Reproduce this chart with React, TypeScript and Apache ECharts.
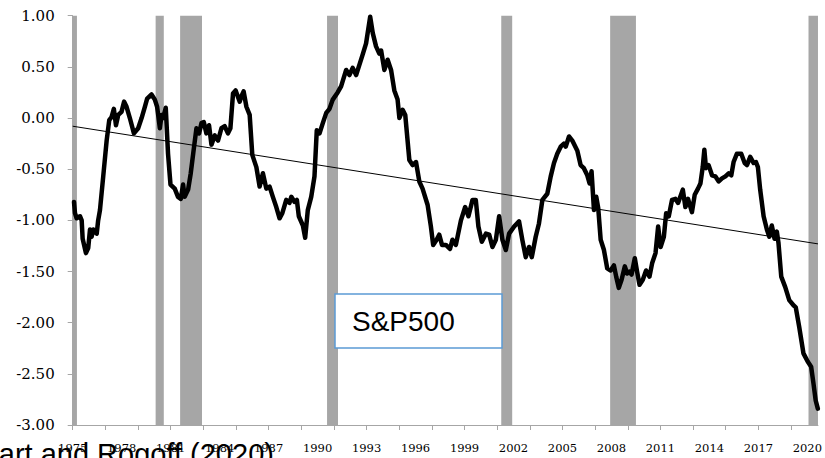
import React, { useEffect, useRef } from "react";
import * as echarts from "echarts";

const years = [
  1975.08, 1975.14, 1975.24, 1975.45, 1975.55, 1975.61, 1975.81, 1975.95, 1976.06, 1976.16,
  1976.26, 1976.47, 1976.56, 1976.67, 1976.87, 1977.08, 1977.24, 1977.38, 1977.52, 1977.65,
  1977.79, 1977.99, 1978.15, 1978.3, 1978.5, 1978.75, 1979.01, 1979.22, 1979.42, 1979.56,
  1979.83, 1980.03, 1980.17, 1980.34, 1980.44, 1980.54, 1980.7, 1980.84, 1980.99, 1981.25,
  1981.45, 1981.62, 1981.76, 1981.86, 1982.07, 1982.23, 1982.41, 1982.58, 1982.74, 1982.89,
  1983.03, 1983.19, 1983.35, 1983.5, 1983.7, 1983.9, 1984.11, 1984.31, 1984.51, 1984.66,
  1984.82, 1984.98, 1985.23, 1985.33, 1985.47, 1985.64, 1985.84, 1986.0, 1986.25, 1986.45,
  1986.65, 1986.86, 1987.06, 1987.26, 1987.47, 1987.67, 1987.84, 1988.08, 1988.28, 1988.39,
  1988.59, 1988.73, 1988.85, 1989.1, 1989.24, 1989.4, 1989.61, 1989.81, 1989.95, 1990.12,
  1990.32, 1990.53, 1990.73, 1990.93, 1991.23, 1991.44, 1991.75, 1991.95, 1992.15, 1992.36,
  1992.56, 1992.76, 1992.97, 1993.22, 1993.38, 1993.58, 1993.78, 1993.89, 1994.09, 1994.29,
  1994.5, 1994.7, 1994.9, 1995.01, 1995.21, 1995.37, 1995.62, 1995.82, 1996.03, 1996.23,
  1996.43, 1996.74, 1996.94, 1997.08, 1997.29, 1997.45, 1997.62, 1997.86, 1998.11, 1998.26,
  1998.47, 1998.78, 1999.04, 1999.24, 1999.49, 1999.69, 1999.85, 2000.06, 2000.31, 2000.51,
  2000.71, 2000.92, 2001.12, 2001.32, 2001.53, 2001.73, 2002.04, 2002.34, 2002.54, 2002.75,
  2002.95, 2003.12, 2003.36, 2003.56, 2003.77, 2004.07, 2004.28, 2004.48, 2004.68, 2004.89,
  2005.09, 2005.2, 2005.4, 2005.6, 2005.91, 2006.11, 2006.31, 2006.52, 2006.66, 2006.78,
  2006.93, 2007.07, 2007.19, 2007.34, 2007.54, 2007.74, 2007.95, 2008.15, 2008.29, 2008.45,
  2008.62, 2008.82, 2008.96, 2009.11, 2009.23, 2009.43, 2009.57, 2009.72, 2009.92, 2010.12,
  2010.33, 2010.49, 2010.7, 2010.86, 2011.01, 2011.21, 2011.35, 2011.51, 2011.71, 2011.92,
  2012.08, 2012.37, 2012.53, 2012.69, 2012.93, 2013.1, 2013.3, 2013.45, 2013.59, 2013.69,
  2013.79, 2013.95, 2014.16, 2014.36, 2014.57, 2014.77, 2014.98, 2015.18, 2015.34, 2015.48,
  2015.68, 2015.95, 2016.16, 2016.3, 2016.5, 2016.71, 2016.85, 2016.97, 2017.11, 2017.32,
  2017.52, 2017.67, 2017.82, 2017.99, 2018.13, 2018.23, 2018.4, 2018.64, 2018.89, 2019.15,
  2019.29, 2019.5, 2019.76, 2020.02, 2020.23, 2020.37, 2020.51, 2020.64,
];

const spValues = [
  -0.82, -0.93, -0.98, -0.96, -1.0, -1.18, -1.32, -1.27, -1.09, -1.16,
  -1.09, -1.13, -1.0, -0.9, -0.57, -0.22, -0.02, 0.01, 0.09, -0.07,
  0.03, 0.06, 0.16, 0.11, 0.0, -0.15, -0.1, 0.0, 0.11, 0.19,
  0.23, 0.18, 0.11, -0.1, 0.03, 0.0, 0.1, -0.35, -0.65, -0.69,
  -0.77, -0.79, -0.65, -0.77, -0.7, -0.54, -0.31, -0.1, -0.15, -0.05,
  -0.04, -0.15, -0.07, -0.26, -0.17, -0.22, -0.1, -0.08, -0.15, -0.1,
  0.24, 0.27, 0.16, 0.21, 0.26, 0.11, 0.03, -0.36, -0.48, -0.67,
  -0.54, -0.69, -0.67, -0.77, -0.87, -0.98, -0.93, -0.8, -0.83, -0.77,
  -0.82, -0.8, -0.96, -1.05, -1.17, -0.9, -0.77, -0.57, -0.12, -0.15,
  -0.05, 0.05, 0.09, 0.18, 0.25, 0.31, 0.47, 0.42, 0.49, 0.42,
  0.52, 0.62, 0.73, 0.99, 0.83, 0.7, 0.63, 0.66, 0.47, 0.57,
  0.47, 0.27, 0.18, 0.0, 0.08, 0.03, -0.41, -0.46, -0.43, -0.62,
  -0.69, -0.85, -1.06, -1.24, -1.19, -1.14, -1.24, -1.24, -1.28, -1.19,
  -1.24, -1.0, -0.87, -0.96, -0.8, -0.8, -1.06, -1.21, -1.13, -1.14,
  -1.26, -1.19, -0.96, -1.19, -1.29, -1.13, -1.06, -1.01, -1.19, -1.36,
  -1.26, -1.36, -1.16, -1.03, -0.8, -0.74, -0.57, -0.44, -0.35, -0.28,
  -0.25, -0.28, -0.18, -0.22, -0.32, -0.46, -0.49, -0.56, -0.64, -0.52,
  -0.9, -0.77, -0.88, -1.19, -1.29, -1.47, -1.49, -1.44, -1.55, -1.66,
  -1.58, -1.45, -1.52, -1.5, -1.53, -1.37, -1.5, -1.63, -1.58, -1.49,
  -1.55, -1.42, -1.32, -1.06, -1.26, -1.16, -0.93, -0.96, -0.8, -0.79,
  -0.83, -0.7, -0.87, -0.79, -0.92, -0.75, -0.69, -0.64, -0.48, -0.31,
  -0.49, -0.46, -0.56, -0.57, -0.62, -0.59, -0.57, -0.54, -0.56, -0.43,
  -0.35, -0.35, -0.44, -0.46, -0.38, -0.44, -0.43, -0.48, -0.7, -0.96,
  -1.09, -1.16, -1.05, -1.18, -1.11, -1.22, -1.55, -1.65, -1.78, -1.83,
  -1.85, -2.04, -2.3, -2.38, -2.43, -2.59, -2.76, -2.84,
];

const recessionStarts = [1975.0, 1980.08, 1981.58, 1990.58, 2001.25, 2007.92, 2020.07];
const recessionEnds = [1975.26, 1980.58, 1982.92, 1991.25, 2001.92, 2009.5, 2020.65];

const trendYears = [1975.0, 2020.65];
const trendValues = [-0.08, -1.23];

const tickYears = [
  1975, 1977, 1979, 1981, 1983, 1985, 1987, 1989, 1991, 1993, 1995, 1997, 1999, 2001, 2003,
  2005, 2007, 2009, 2011, 2013, 2015, 2017, 2019,
];
const labelYears = [
  1975, 1978, 1981, 1984, 1987, 1990, 1993, 1996, 1999, 2002, 2005, 2008, 2011, 2014, 2017, 2020,
];

const xMin = 1975;
const xMax = 2020.65;
const yMin = -3;
const yMax = 1;
const yStep = 0.5;

const seriesName = "S&P500";
const sourceText = "Reinhart and Rogoff (2020)";

export default function App() {
  const ref = useRef<HTMLDivElement>(null);

  useEffect(() => {
    if (!ref.current) return;
    const chart = echarts.init(ref.current, null, { renderer: "svg" });

    const lineData = years.map((y, i) => [y, spValues[i]]);
    const trendData = trendYears.map((y, i) => [y, trendValues[i]]);
    const recData = recessionStarts.map((s, i) => [s, recessionEnds[i]]);

    const axisGray = "#a6a6a6";

    chart.setOption({
      animation: false,
      backgroundColor: "#ffffff",
      grid: { left: 72.7, top: 15.7, right: 5.5, bottom: 33 },
      xAxis: {
        type: "value",
        z: 20,
        min: xMin,
        max: xMax,
        splitLine: { show: false },
        axisLine: { show: true, onZero: false, lineStyle: { color: axisGray, width: 1 } },
        axisTick: {
          show: true,
          length: 5,
          lineStyle: { color: axisGray },
          customValues: tickYears,
        },
        axisLabel: {
          show: true,
          customValues: labelYears,
          margin: 17,
          color: "#000",
          fontFamily: "DejaVu Serif",
          fontSize: 11.5,
          formatter: (v: number) => String(Math.round(v)),
        },
      },
      yAxis: {
        type: "value",
        min: yMin,
        max: yMax,
        interval: yStep,
        splitLine: { show: false },
        axisLine: { show: true, onZero: false, lineStyle: { color: axisGray, width: 1 } },
        axisTick: { show: true, length: 5, lineStyle: { color: axisGray } },
        axisLabel: {
          margin: 18,
          color: "#000",
          fontFamily: "DejaVu Serif",
          fontSize: 15,
          formatter: (v: number) => v.toFixed(2),
        },
      },
      series: [
        {
          type: "custom",
          name: "recessions",
          z: 1,
          silent: true,
          encode: { x: [0, 1] },
          data: recData,
          renderItem: (params: any, api: any) => {
            const p0 = api.coord([api.value(0), yMax]);
            const p1 = api.coord([api.value(1), yMin]);
            return {
              type: "rect",
              shape: { x: p0[0], y: p0[1], width: p1[0] - p0[0], height: p1[1] - p0[1] },
              style: { fill: "#a6a6a6" },
            };
          },
        },
        {
          type: "line",
          name: "trend",
          z: 2,
          data: trendData,
          showSymbol: false,
          symbol: "none",
          lineStyle: { color: "#000", width: 1 },
          silent: true,
        },
        {
          type: "line",
          name: seriesName,
          z: 3,
          data: lineData,
          showSymbol: false,
          symbol: "none",
          lineStyle: { color: "#000", width: 4.5, join: "round", cap: "round" },
          silent: true,
        },
      ],
      graphic: [
        {
          type: "rect",
          z: 10,
          shape: { x: 335, y: 294, width: 167, height: 54 },
          style: { fill: "#ffffff", stroke: "#5b9bd5", lineWidth: 1.5 },
        },
        {
          type: "text",
          z: 11,
          x: 352,
          y: 321.5,
          style: {
            text: seriesName,
            fill: "#000",
            font: '28px "Liberation Sans", Arial, sans-serif',
            verticalAlign: "middle",
          },
        },
        {
          type: "text",
          z: 0,
          x: -77,
          y: 454,
          style: {
            text: sourceText,
            fill: "#000",
            font: '29px "Liberation Sans", Arial, sans-serif',
            verticalAlign: "middle",
          },
        },
      ],
    });

    return () => chart.dispose();
  }, []);

  return (
    <div
      ref={ref}
      style={{ position: "fixed", left: 0, top: 0, width: 825, height: 458, background: "#fff" }}
    />
  );
}
